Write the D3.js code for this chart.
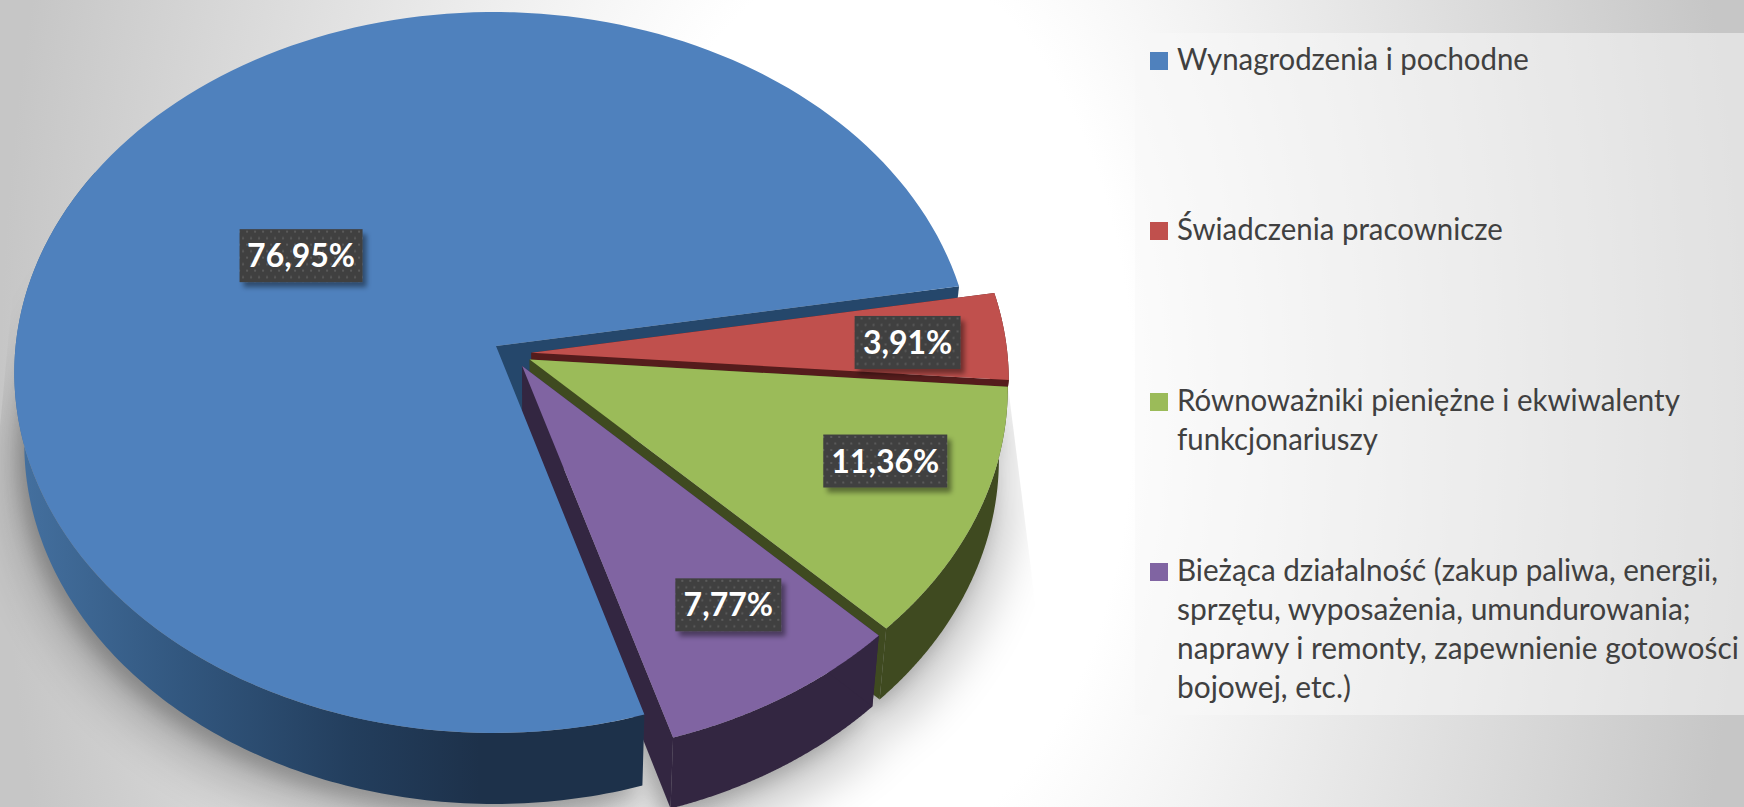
<!DOCTYPE html>
<html><head><meta charset="utf-8">
<script src="https://cdn.jsdelivr.net/npm/d3@7/dist/d3.min.js"></script>
<style>html,body{margin:0;padding:0;background:#fff;overflow:hidden}svg{display:block}</style>
</head><body><svg id="c" width="1744" height="807"></svg>
<script>
// ---- data ----
const categories = ["Wynagrodzenia i pochodne","Świadczenia pracownicze","Równoważniki pieniężne i ekwiwalenty funkcjonariuszy","Bieżąca działalność (zakup paliwa, energii, sprzętu, wyposażenia, umundurowania; naprawy i remonty, zapewnienie gotowości bojowej, etc.)"];
const values = [76.95, 3.91, 11.36, 7.77];
const valueLabels = ["76,95%","3,91%","11,36%","7,77%"];
const legendLines = [
  ["Wynagrodzenia i pochodne"],
  ["Świadczenia pracownicze"],
  ["Równoważniki pieniężne i ekwiwalenty","funkcjonariuszy"],
  ["Bieżąca działalność (zakup paliwa, energii,","sprzętu, wyposażenia, umundurowania;","naprawy i remonty, zapewnienie gotowości","bojowej, etc.)"]
];
// ---- style / layout ----
const topColors = ["#4f81bd","#c0504d","#9bbb59","#8064a2"];
const wallColors = ["#25476b","#551c1c","#3f4a20","#332641"];
const labelR = [.49,.79,.777,.75], labelNudge = [0,.5,-4,-2];
const legendTop = [52,222,393,563];
const legendWidths = [[352],[326],[503,201],[541,514,562,174]];
const TAU = Math.PI*2;

// pie angles from the data
const pie = d3.pie().sort(null).value(d=>d).startAngle(163.2*Math.PI/180).endAngle(163.2*Math.PI/180+TAU);
const arcs = pie(values);

// oblique perspective projection of the pie's unit disc
const O = {x:496,y:346,A:358.5,B:478,k:.0735,j:.005,expl:.04,depth:71,sx:.019,x0:540};
const proj = (u,v,low)=>{
  const w = 1-O.k*v+O.j*u;
  let x = O.x+O.B*u/w, y = O.y+O.A*v/w;
  if(low){ x -= O.sx*(x-O.x0); y += O.depth; }
  return [x,y];
};
const polar = (a,r)=>[r*Math.sin(a),-r*Math.cos(a)];
const mid = a=>(a.startAngle+a.endAngle)/2;
const blueMid = polar(mid(arcs[0]),1);
const center = i=>{
  if(i===0) return [0,0];
  const m = polar(mid(arcs[i]),O.expl);
  return [m[0]-blueMid[0]*O.expl,m[1]-blueMid[1]*O.expl];
};
const rim = (i,n=160,endA)=>d3.range(n+1).map(j=>{
  const e=endA===undefined?arcs[i].endAngle:endA;
  const a=arcs[i].startAngle+(e-arcs[i].startAngle)*j/n, c=center(i), p=polar(a,1);
  return [c[0]+p[0],c[1]+p[1]];
});
const line = d3.line();
const face = (i,low)=>{const c=center(i);return line([proj(c[0],c[1],low),...rim(i).map(p=>proj(p[0],p[1],low))])+"Z";};
const outerWall = (i,endA)=>{const r=rim(i,160,endA);return line([...r.map(p=>proj(p[0],p[1],false)),...r.slice().reverse().map(p=>proj(p[0],p[1],true))])+"Z";};
const inner = (i,a)=>{const c=center(i),p=polar(a,1),q=[c[0]+p[0],c[1]+p[1]];
  return line([proj(c[0],c[1],false),proj(q[0],q[1],false),proj(q[0],q[1],true),proj(c[0],c[1],true)])+"Z";};

const svg = d3.select("#c"), defs = svg.append("defs");
// background
const bg = defs.append("radialGradient").attr("id","bg").attr("gradientUnits","userSpaceOnUse")
  .attr("cx",0).attr("cy",0).attr("r",1).attr("gradientTransform","translate(872,403) scale(872,1500)");
[[0,"#ffffff"],[.3,"#ffffff"],[1,"#c6c6c6"]].forEach(s=>bg.append("stop").attr("offset",s[0]).attr("stop-color",s[1]));
svg.append("rect").attr("width",1744).attr("height",807).attr("fill","url(#bg)");
// legend panel
svg.append("rect").attr("x",1135).attr("y",33).attr("width",609).attr("height",682).attr("fill","#f8f8f8").attr("fill-opacity",.55);

// shadow
defs.append("filter").attr("id","b1").attr("x","-20%").attr("y","-20%").attr("width","140%").attr("height","140%").append("feGaussianBlur").attr("stdDeviation",22);
defs.append("filter").attr("id","b2").attr("x","-20%").attr("y","-20%").attr("width","140%").attr("height","140%").append("feGaussianBlur").attr("stdDeviation",9);
defs.append("clipPath").attr("id","sc").append("path").attr("d","M15,267L959,285L1008,386L1040,640L1040,807L-5,807L-5,480Z");
const sh = svg.append("g").attr("clip-path","url(#sc)");
const s1 = sh.append("g").attr("filter","url(#b1)").attr("transform","translate(0,24) translate(500,400) scale(1.03,1.03) translate(-500,-400)").attr("opacity",.2);
const s2 = sh.append("g").attr("filter","url(#b2)").attr("transform","translate(-6,10)").attr("opacity",.2);
[s1,s2].forEach(g=>g.selectAll("path").data(arcs).join("path").attr("d",(d,i)=>face(i,true)).attr("fill","#000"));

// blue wall gradient
const wg = defs.append("linearGradient").attr("id","wb").attr("gradientUnits","userSpaceOnUse").attr("x1",20).attr("x2",480).attr("y1",0).attr("y2",0);
[[0,"#44709f"],[.35,"#32577f"],[.72,"#233e5d"],[1,"#1d314a"]].forEach(s=>wg.append("stop").attr("offset",s[0]).attr("stop-color",s[1]));

const pieG = svg.append("g");
// back to front: inner wall of the large slice, the small slices, then the large slice over them
pieG.append("path").attr("d",inner(0,arcs[0].endAngle)).attr("fill",wallColors[0]);
[1,2,3].forEach(i=>{
  const a=arcs[i], g=pieG.append("g");
  g.append("path").attr("d",outerWall(i)).attr("fill",wallColors[i]);
  g.append("path").attr("d",inner(i,a.startAngle)).attr("fill",wallColors[i]);
  g.append("path").attr("d",inner(i,a.endAngle)).attr("fill",wallColors[i]);
  g.append("path").attr("d",face(i,false)).attr("fill",topColors[i]);
});
// only the near half of the large slice's rim wall can be seen
pieG.append("path").attr("d",outerWall(0,300*Math.PI/180)).attr("fill","url(#wb)");
pieG.append("path").attr("d",face(0,false)).attr("fill",topColors[0]);

// labels
const pat = defs.append("pattern").attr("id","dots").attr("patternUnits","userSpaceOnUse").attr("width",8).attr("height",13);
pat.append("rect").attr("width",8).attr("height",13).attr("fill","#404040");
[[1,1],[5,7.5]].forEach(p=>pat.append("rect").attr("x",p[0]).attr("y",p[1]).attr("width",2).attr("height",2).attr("fill","#5a5a5a"));
const ds = defs.append("filter").attr("id","ds").attr("x","-20%").attr("y","-20%").attr("width","140%").attr("height","150%");
ds.append("feDropShadow").attr("dx",4).attr("dy",5).attr("stdDeviation",2.5).attr("flood-color","#000").attr("flood-opacity",.42);

const labelG = svg.append("g");
arcs.forEach((a,i)=>{
  const c=center(i), ang=mid(a)+labelNudge[i]*Math.PI/180, p=polar(ang,labelR[i]);
  const [x,y]=proj(c[0]+p[0],c[1]+p[1],false);
  const t=labelG.append("g").attr("transform",`translate(${x+1},${y+.5})`);
  const w=[123,106,124,106][i];
  t.append("rect").attr("x",-w/2).attr("y",-26.5).attr("width",w).attr("height",53).attr("fill","url(#dots)").attr("filter","url(#ds)");
  t.append("text").attr("text-anchor","middle").attr("y",11.5).attr("fill","#fff")
    .attr("font-family","Lato").attr("font-weight",700).attr("font-size",32).text(valueLabels[i]);
});

// legend
const legend = svg.append("g");
const LFS=31.5, textX=1177;
categories.forEach((c,i)=>{
  legend.append("rect").attr("x",1150).attr("y",legendTop[i]).attr("width",18).attr("height",18).attr("fill",topColors[i]);
  legendLines[i].forEach((l,j)=>{
    const t=legend.append("text").attr("font-family","Lato").attr("font-size",LFS).attr("fill","#404040").text(l);
    const hs=legendWidths[i][j]/t.node().getComputedTextLength();
    t.attr("transform",`translate(${textX},${legendTop[i]+18+j*39}) scale(${hs},1)`);
  });
});
</script></body></html>
